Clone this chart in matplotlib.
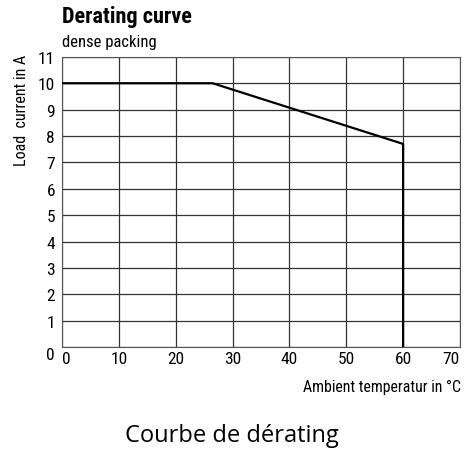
import matplotlib.pyplot as plt

# Kurvendaten
temp = [0, 26.5, 60, 60]
current = [10, 10, 7.7, 0]
x_ticks = [0, 10, 20, 30, 40, 50, 60, 70]
y_ticks = list(range(0, 12))

plt.rcParams['font.family'] = ['Roboto Condensed', 'DejaVu Sans']

fig = plt.figure(figsize=(4.66, 4.52), dpi=100)
ax = fig.add_axes([0.133, 0.230, 0.854, 0.642])

ax.plot(temp, current, color='black', lw=1.6, zorder=3)
ax.set_xlim(0, 70)
ax.set_ylim(0, 11)
ax.set_xticks(x_ticks)
ax.set_yticks(y_ticks)
ax.grid(True, color='#333333', lw=0.9)
ax.tick_params(length=0, labelsize=12.5)
ax.tick_params(axis='x', pad=3)
ax.tick_params(axis='y', pad=5)
for s in ax.spines.values():
    s.set_color('#555555')

# erste/letzte Beschriftung nach innen schieben wie im Original
xl = ax.get_xticklabels()
xl[0].set_ha('left')
xl[-1].set_ha('right')
ax.get_yticklabels()[0].set_va('top')

fig.text(0.047, 0.755, 'Load  current in A', rotation=90, fontsize=11.5, ha='center', va='center')
fig.text(0.99, 0.142, 'Ambient temperatur in °C', fontsize=11.4, ha='right', va='center')
fig.text(0.133, 0.962, 'Derating curve', fontsize=16, fontweight='bold', ha='left', va='center')
fig.text(0.133, 0.905, 'dense packing', fontsize=12, ha='left', va='center')
fig.text(0.497, 0.036, 'Courbe de dérating', fontsize=17, ha='center', va='center',
         family=['Open Sans', 'DejaVu Sans'])

fig.savefig('out.png', dpi=100)
